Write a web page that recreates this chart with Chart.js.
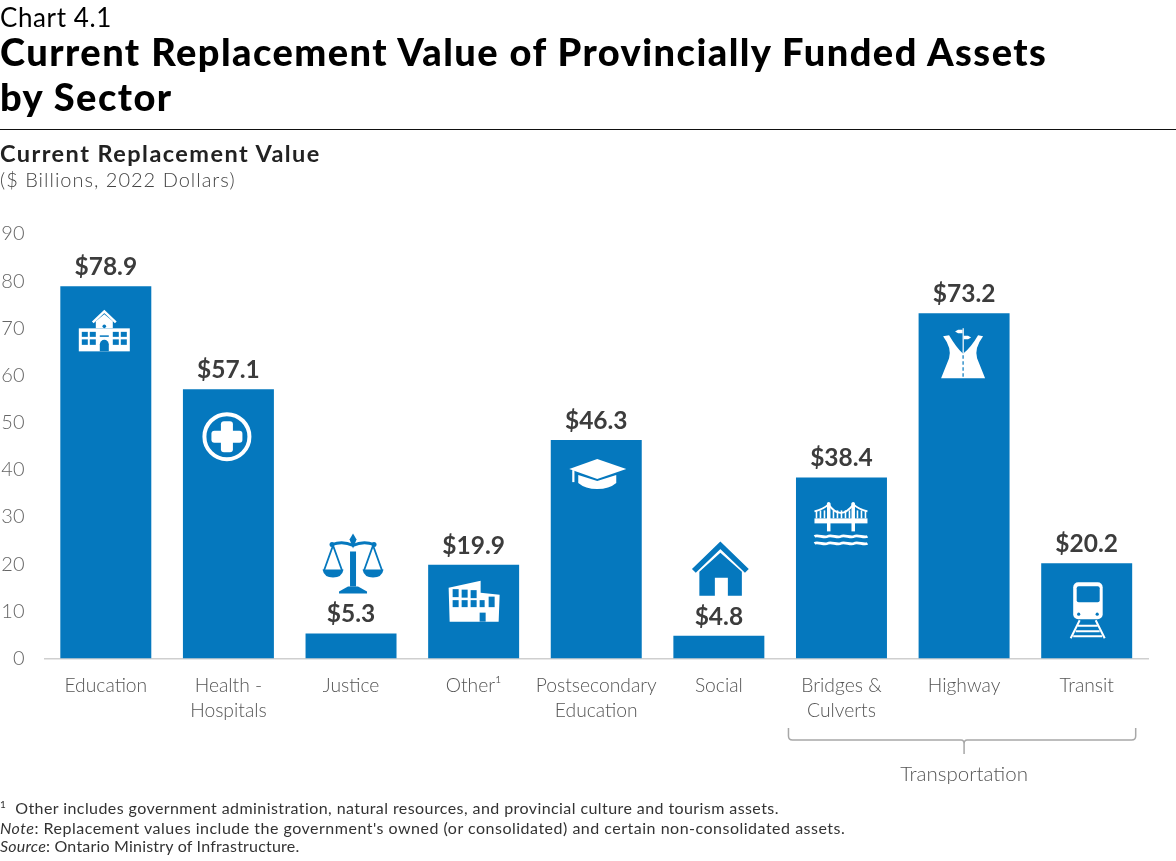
<!DOCTYPE html>
<html>
<head>
<meta charset="utf-8">
<title>Chart 4.1</title>
<script src="https://cdn.jsdelivr.net/npm/chart.js@4"></script>
<style>
  html, body { margin: 0; padding: 0; background: #fff; overflow: hidden; }
  body { width: 1176px; height: 861px; position: relative; font-family: Lato, sans-serif; color: #000; }
  canvas { position: absolute; left: 0; top: 0; }
  .txt { position: absolute; left: 0; white-space: nowrap; }
  #num { top: 2px; font-size: 26px; line-height: 30px; letter-spacing: 0.6px; }
  #title { top: 29px; font-size: 38px; line-height: 45px; font-weight: 900; letter-spacing: 1.45px; }
  #rule { position: absolute; left: 0; top: 129px; width: 1176px; height: 1px; background: #111; }
  #sub { top: 139px; font-size: 23.5px; line-height: 28px; font-weight: 700; color: #222; letter-spacing: 1.45px; }
  #unit { top: 167px; font-size: 20px; line-height: 25px; font-weight: 300; color: #444; letter-spacing: 1px; }
  .fn { font-size: 16px; line-height: 19px; color: #333; letter-spacing: 0.42px; }
</style>
</head>
<body>
<canvas id="myChart" width="1176" height="861"></canvas>
<div class="txt" id="num">Chart 4.1</div>
<div class="txt" id="title">Current Replacement Value of Provincially Funded Assets<br>by Sector</div>
<div id="rule"></div>
<div class="txt" id="sub">Current Replacement Value</div>
<div class="txt" id="unit">($ Billions, 2022 Dollars)</div>
<div class="txt fn" style="top:798px"><sup style="font-size:10px;line-height:0">1</sup>&nbsp; Other includes government administration, natural resources, and provincial culture and tourism assets.</div>
<div class="txt fn" style="top:818px;letter-spacing:0.5px"><i>Note</i>: Replacement values include the government's owned (or consolidated) and certain non-consolidated assets.</div>
<div class="txt fn" style="top:836px;letter-spacing:0.2px"><i>Source</i>: Ontario Ministry of Infrastructure.</div>
<script>
"use strict";
var categories = [
  "Education", ["Health -", "Hospitals"], "Justice", "Other\u00B9",
  ["Postsecondary", "Education"], "Social", ["Bridges &", "Culverts"], "Highway", "Transit"
];
var values = [78.9, 57.1, 5.3, 19.9, 46.3, 4.8, 38.4, 73.2, 20.2];
var yTicks = [0, 10, 20, 30, 40, 50, 60, 70, 80, 90];
var groupLabel = "Transportation";
var groupFrom = 6, groupTo = 8;

var BLUE = "#0578be";

/* little icon painters, origin is top left of each icon */
function school(c) {
  c.fillStyle = "#fff"; c.strokeStyle = "#fff";
  c.fillRect(0, 18, 51, 23);
  c.beginPath(); c.moveTo(17, 18); c.lineTo(17, 11); c.lineTo(25.5, 4); c.lineTo(34, 11); c.lineTo(34, 18); c.fill();
  c.lineWidth = 2.5;
  c.beginPath(); c.moveTo(14, 12); c.lineTo(25.5, 1); c.lineTo(37, 12); c.stroke();
  c.fillStyle = BLUE;
  [3, 11, 34, 42].forEach(function (x) {
    c.fillRect(x, 21.5, 6, 5); c.fillRect(x, 29, 6, 5.5);
  });
  c.fillRect(21, 25, 9, 1.5);
  c.beginPath(); c.arc(25.5, 16, 1.8, 0, 7); c.fill();
  c.beginPath(); c.moveTo(21, 41); c.lineTo(21, 34); c.arc(25.5, 34, 4.5, Math.PI, 0); c.lineTo(30, 41); c.fill();
}
function medical(c) {
  c.strokeStyle = "#fff"; c.fillStyle = "#fff"; c.lineWidth = 4;
  c.beginPath(); c.arc(24.5, 24.5, 22.5, 0, 7); c.stroke();
  c.beginPath(); c.roundRect(18.5, 9, 12, 31, 3); c.fill();
  c.beginPath(); c.roundRect(9, 18.5, 31, 12, 3); c.fill();
}
function scales(c) {
  c.fillStyle = BLUE; c.strokeStyle = BLUE;
  c.fillRect(27, 18, 6, 35);
  c.beginPath(); c.moveTo(25, 53); c.lineTo(35, 53); c.lineTo(44, 58); c.lineTo(44, 60); c.lineTo(16, 60); c.lineTo(16, 58); c.fill();
  c.lineWidth = 2.8;
  c.beginPath(); c.moveTo(9, 11); c.quadraticCurveTo(20, 7, 30, 12); c.quadraticCurveTo(40, 7, 51, 11); c.stroke();
  c.beginPath(); c.moveTo(30, 0); c.lineTo(33.5, 6); c.lineTo(30, 15); c.lineTo(26.5, 6); c.fill();
  c.beginPath(); c.arc(9, 11, 2.5, 0, 7); c.fill();
  c.beginPath(); c.arc(51, 11, 2.5, 0, 7); c.fill();
  c.lineWidth = 1.8;
  [10, 50].forEach(function (x) {
    c.beginPath(); c.moveTo(x - 9, 37); c.lineTo(x, 12); c.lineTo(x + 9, 37); c.stroke();
    c.beginPath(); c.moveTo(x - 10.5, 36); c.lineTo(x + 10.5, 36); c.quadraticCurveTo(x + 9, 44, x, 44); c.quadraticCurveTo(x - 9, 44, x - 10.5, 36); c.fill();
  });
}
function factory(c) {
  c.fillStyle = "#fff";
  c.beginPath(); c.moveTo(0, 7); c.lineTo(32, 0); c.lineTo(32, 12); c.lineTo(51, 14); c.lineTo(50, 41); c.lineTo(1, 41); c.fill();
  c.fillStyle = BLUE;
  [[4, 5], [13, 4], [22, 3]].forEach(function (w) {
    c.fillRect(w[0], 10 - w[1] / 2 + 1, 6, 8);
    c.fillRect(w[0], 19.5, 6, 7);
  });
  c.fillRect(31, 19.5, 5, 7);
  c.fillRect(40, 16, 6, 10.5);
  c.fillRect(31, 32, 6, 9);
}
function gradCap(c) {
  c.fillStyle = "#fff";
  c.beginPath(); c.moveTo(0, 10); c.lineTo(28, 0); c.lineTo(57, 10); c.lineTo(28, 20); c.fill();
  c.fillRect(3, 11, 2.2, 12);
  c.beginPath(); c.moveTo(9, 16); c.lineTo(28, 22); c.lineTo(47, 16); c.lineTo(47, 24);
  c.quadraticCurveTo(40, 30, 28, 30); c.quadraticCurveTo(16, 30, 9, 24); c.fill();
}
function house(c) {
  c.strokeStyle = BLUE; c.fillStyle = BLUE; c.lineWidth = 5.5;
  c.beginPath(); c.moveTo(2, 29); c.lineTo(28.5, 3.5); c.lineTo(55, 29); c.stroke();
  c.beginPath(); c.moveTo(7.5, 30); c.lineTo(28.5, 11); c.lineTo(50, 30); c.lineTo(50, 54); c.lineTo(36, 54);
  c.lineTo(36, 36); c.lineTo(23, 36); c.lineTo(23, 54); c.lineTo(7.5, 54); c.fill();
}
function bridge(c) {
  c.strokeStyle = "#fff"; c.fillStyle = "#fff";
  c.fillRect(0, 17, 53, 5);
  c.fillRect(12.5, 2, 3.5, 28); c.fillRect(37, 2, 3.5, 28);
  c.beginPath(); c.arc(14.2, 2.5, 1.8, 0, 7); c.fill();
  c.beginPath(); c.arc(38.7, 2.5, 1.8, 0, 7); c.fill();
  c.lineWidth = 1.8;
  c.beginPath(); c.moveTo(0, 10); c.quadraticCurveTo(9, 8, 14, 3); c.quadraticCurveTo(26, 20, 39, 3); c.quadraticCurveTo(44, 8, 53, 10); c.stroke();
  [2, 6, 10, 19, 23, 27, 31, 35, 43, 47, 51].forEach(function (x) {
    c.fillRect(x - 0.8, 9, 1.6, 8);
  });
  c.lineWidth = 2.8;
  [35, 42].forEach(function (y) {
    c.beginPath(); c.moveTo(0, y);
    for (var i = 0; i < 4; i++) {
      c.bezierCurveTo(3.3 + i * 13.25, y - 2, 9.9 + i * 13.25, y + 2, 13.25 + i * 13.25, y);
    }
    c.stroke();
  });
}
function highway(c) {
  c.fillStyle = "#fff";
  c.beginPath(); c.moveTo(2, 8); c.lineTo(8, 7); c.quadraticCurveTo(15, 19, 21.5, 25); c.lineTo(22.5, 25); c.quadraticCurveTo(30, 19, 37, 7);
  c.lineTo(42, 8); c.quadraticCurveTo(33, 20, 36, 30); c.lineTo(44, 50); c.lineTo(0, 50); c.lineTo(8, 30); c.quadraticCurveTo(11, 20, 2, 8); c.fill();
  c.fillRect(21.5, 0, 1.2, 25);
  c.beginPath(); c.moveTo(14, 3.3); c.lineTo(17, 1.5); c.lineTo(21.5, 1.5); c.lineTo(21.5, 5); c.lineTo(17, 5); c.fill();
  c.beginPath(); c.moveTo(30, 9.3); c.lineTo(27, 7.5); c.lineTo(22.5, 7.5); c.lineTo(22.5, 11); c.lineTo(27, 11); c.fill();
  c.fillStyle = BLUE;
  [27, 33, 39, 45].forEach(function (y) { c.fillRect(21.4, y, 1.2, 3.5); });
}
function train(c) {
  c.strokeStyle = "#fff"; c.fillStyle = "#fff";
  c.beginPath(); c.roundRect(3.5, 0, 29.5, 37, 5); c.fill();
  c.fillStyle = BLUE;
  c.beginPath(); c.roundRect(7, 4, 23, 16, 2); c.fill();
  c.beginPath(); c.arc(9, 32, 1.6, 0, 7); c.fill();
  c.beginPath(); c.arc(27.5, 32, 1.6, 0, 7); c.fill();
  c.lineWidth = 2;
  c.beginPath(); c.moveTo(10, 38); c.lineTo(1, 56); c.moveTo(26, 38); c.lineTo(35, 56); c.stroke();
  c.beginPath(); c.moveTo(8, 43.5); c.lineTo(28, 43.5); c.moveTo(6, 49); c.lineTo(30, 49); c.moveTo(3.5, 54); c.lineTo(32.5, 54); c.stroke();
}

// painter, then offset from the top centre of its bar
var icons = [
  [school, -27, 24], [medical, -26, 23], [scales, -28, -100],
  [factory, -25, 16], [gradCap, -27, 19], [house, -27, -94],
  [bridge, -27, 24], [highway, -23, 15], [train, -17, 19]
];

var barExtras = {
  id: "barExtras",
  afterDatasetsDraw: function (chart) {
    var c = chart.ctx;
    var meta = chart.getDatasetMeta(0);
    meta.data.forEach(function (bar, i) {
      c.save();
      c.fillStyle = "#3c3c3c";
      c.font = "700 24.5px Lato";
      c.textAlign = "center";
      c.textBaseline = "middle";
      c.fillText("$" + values[i].toFixed(1), bar.x, bar.y - 19);
      c.translate(bar.x + icons[i][1], bar.y + icons[i][2]);
      icons[i][0](c);
      c.restore();
    });
    // bracket under the transportation group
    var xs = chart.scales.x;
    var left = xs.getPixelForValue(groupFrom) - 53;
    var right = xs.getPixelForValue(groupTo) + 49;
    var mid = xs.getPixelForValue((groupFrom + groupTo) / 2);
    c.save();
    c.strokeStyle = "#a8a8a8";
    c.lineWidth = 1.5;
    c.beginPath();
    c.moveTo(left, 728); c.lineTo(left, 736);
    c.quadraticCurveTo(left, 740, left + 4, 740);
    c.lineTo(mid - 3, 740); c.quadraticCurveTo(mid, 740, mid, 744); c.lineTo(mid, 754);
    c.moveTo(mid, 744); c.quadraticCurveTo(mid, 740, mid + 3, 740);
    c.lineTo(right - 4, 740); c.quadraticCurveTo(right, 740, right, 736); c.lineTo(right, 728);
    c.stroke();
    c.fillStyle = "#555";
    c.font = "300 20.5px Lato";
    c.textAlign = "center";
    c.textBaseline = "middle";
    c.fillText(groupLabel, mid, 774);
    c.restore();
  }
};

var ctx = document.getElementById("myChart");
new Chart(ctx, {
  type: "bar",
  data: {
    labels: categories,
    datasets: [{
      data: values,
      backgroundColor: BLUE,
      barPercentage: 0.742,
      categoryPercentage: 1
    }]
  },
  plugins: [barExtras],
  options: {
    responsive: false,
    animation: false,
    devicePixelRatio: 1,
    layout: { padding: { top: 234, right: 28, left: 0, bottom: 0 } },
    plugins: { legend: { display: false }, tooltip: { enabled: false } },
    scales: {
      x: {
        afterFit: function (scale) { scale.height = 202.5; },
        grid: { display: false, drawTicks: false },
        border: { display: true, color: "#cfcfcf", width: 1.5 },
        ticks: {
          color: "#555",
          font: { family: "Lato", size: 19.3, weight: 300, lineHeight: 1.3 },
          padding: 14.5,
          maxRotation: 0,
          autoSkip: false
        }
      },
      y: {
        min: 0,
        max: 90,
        afterFit: function (scale) { scale.width = 44.5; },
        afterBuildTicks: function (scale) {
          scale.ticks = yTicks.map(function (v) { return { value: v }; });
        },
        grid: { display: false, drawTicks: false },
        border: { display: false },
        ticks: {
          color: "#666",
          font: { family: "Lato", size: 20, weight: 300 },
          padding: 20
        }
      }
    }
  }
});
</script>
</body>
</html>
